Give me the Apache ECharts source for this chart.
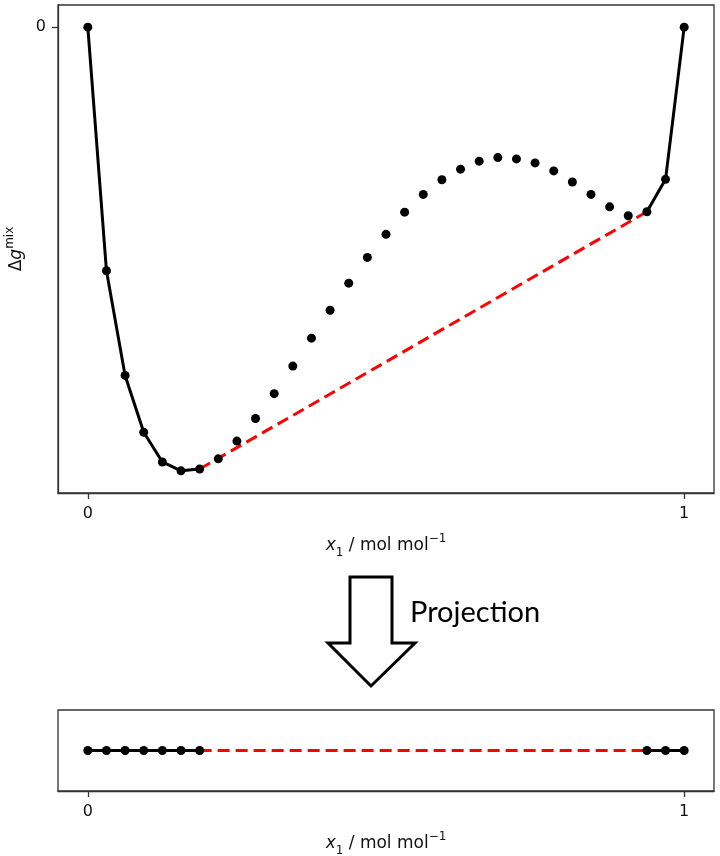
<!DOCTYPE html>
<html>
<head>
<meta charset="utf-8">
<script src="https://cdn.jsdelivr.net/npm/echarts@6/dist/echarts.min.js"></script>
<style>
html,body{margin:0;padding:0;background:#fff;}
#c{width:720px;height:856px;}
</style>
</head>
<body>
<div id="c"></div>
<script>
// Stable branch near x1 = 0 (solid)
const xLeft = [0, 0.03125, 0.0625, 0.09375, 0.125, 0.15625, 0.1875];
const gLeft = [0, -0.549, -0.785, -0.913, -0.98, -1.0, -0.996];
// Unstable / metastable points (dots only)
const xMid = [0.21875, 0.25, 0.28125, 0.3125, 0.34375, 0.375, 0.40625, 0.4375, 0.46875, 0.5,
              0.53125, 0.5625, 0.59375, 0.625, 0.65625, 0.6875, 0.71875, 0.75, 0.78125, 0.8125,
              0.84375, 0.875, 0.90625];
const gMid = [-0.973, -0.933, -0.882, -0.826, -0.764, -0.701, -0.638, -0.577, -0.519, -0.467,
              -0.417, -0.377, -0.344, -0.320, -0.302, -0.294, -0.297, -0.306, -0.324, -0.349,
              -0.377, -0.405, -0.425];
// Stable branch near x1 = 1 (solid)
const xRight = [0.9375, 0.96875, 1];
const gRight = [-0.416, -0.343, 0];
// Tick values
const xTicks = [0, 1];
const yTicks = [0];

const zip = (a, b) => a.map((v, i) => [v, b[i]]);
const tieLine = [[xLeft[xLeft.length - 1], gLeft[gLeft.length - 1]], [xRight[0], gRight[0]]];
const projLeft = xLeft.map(v => [v, 0]);
const projRight = xRight.map(v => [v, 0]);
const projTie = [[xLeft[xLeft.length - 1], 0], [xRight[0], 0]];

const FONT = 'DejaVu Sans';
const richStyles = {
  it: {fontFamily: FONT, fontSize: 17, fontStyle: 'italic', color: '#111', lineHeight: 26, verticalAlign: 'middle'},
  n: {fontFamily: FONT, fontSize: 17, color: '#111', lineHeight: 26, verticalAlign: 'middle'},
  sub: {fontFamily: FONT, fontSize: 12, color: '#111', lineHeight: 15, verticalAlign: 'bottom'},
  sup: {fontFamily: FONT, fontSize: 12, color: '#111', lineHeight: 14, verticalAlign: 'top'}
};
const nameStyle = {fontFamily: FONT, fontSize: 17, color: '#111', rich: richStyles};
const xName = '{it|x}{sub|1}{n| / mol mol}{sup|−1}';
const yName = '{n|Δ}{it|g}{sup|mix}';
const lineCol = {color: '#333', width: 1.3};

function xAxisFor(idx) {
  return {
    gridIndex: idx, type: 'value', min: -0.05, max: 1.05,
    axisLine: {show: true, onZero: false, lineStyle: lineCol}, splitLine: {show: false},
    axisTick: {show: true, customValues: xTicks, length: 6, lineStyle: lineCol},
    axisLabel: {show: true, customValues: xTicks, fontFamily: FONT, fontSize: 16, color: '#111', margin: 13,
                formatter: v => String(v)},
    name: xName, nameLocation: 'middle', nameGap: 40, nameTextStyle: nameStyle
  };
}

const chart = echarts.init(document.getElementById('c'), null, {renderer: 'canvas'});
chart.setOption({
  animation: false,
  backgroundColor: '#fff',
  grid: [
    {left: 58, right: 6, top: 5, height: 488, show: true, borderColor: '#333', borderWidth: 1.3,
     containLabel: false, outerBoundsMode: 'none'},
    {left: 58, right: 6, top: 710, height: 81, show: true, borderColor: '#333', borderWidth: 1.3,
     containLabel: false, outerBoundsMode: 'none'}
  ],
  xAxis: [xAxisFor(0), xAxisFor(1)],
  yAxis: [
    {
      gridIndex: 0, type: 'value', min: -1.05, max: 0.05,
      axisLine: {show: true, onZero: false, lineStyle: lineCol}, splitLine: {show: false},
      axisTick: {show: true, customValues: yTicks, length: 6, lineStyle: lineCol},
      axisLabel: {show: true, customValues: yTicks, fontFamily: FONT, fontSize: 16, color: '#111', margin: 12,
                  formatter: v => String(v)},
      name: yName, nameLocation: 'middle', nameGap: 27, nameRotate: 90,
      nameTextStyle: nameStyle
    },
    {gridIndex: 1, type: 'value', min: -1, max: 1, show: false}
  ],
  series: [
    {type: 'line', xAxisIndex: 0, yAxisIndex: 0, data: tieLine, symbol: 'none', z: 2,
     lineStyle: {color: '#ff0000', width: 3, type: [12, 6]}},
    {type: 'line', xAxisIndex: 0, yAxisIndex: 0, data: zip(xLeft, gLeft), symbol: 'circle', symbolSize: 9, z: 3,
     lineStyle: {color: '#000', width: 3}, itemStyle: {color: '#000'}},
    {type: 'scatter', xAxisIndex: 0, yAxisIndex: 0, data: zip(xMid, gMid), symbol: 'circle', symbolSize: 9, z: 3,
     itemStyle: {color: '#000', opacity: 1}},
    {type: 'line', xAxisIndex: 0, yAxisIndex: 0, data: zip(xRight, gRight), symbol: 'circle', symbolSize: 9, z: 3,
     lineStyle: {color: '#000', width: 3}, itemStyle: {color: '#000'}},

    {type: 'line', xAxisIndex: 1, yAxisIndex: 1, data: projTie, symbol: 'none', z: 2,
     lineStyle: {color: '#ff0000', width: 3, type: [12, 6]}},
    {type: 'line', xAxisIndex: 1, yAxisIndex: 1, data: projLeft, symbol: 'circle', symbolSize: 9, z: 3,
     lineStyle: {color: '#000', width: 3}, itemStyle: {color: '#000'}},
    {type: 'line', xAxisIndex: 1, yAxisIndex: 1, data: projRight, symbol: 'circle', symbolSize: 9, z: 3,
     lineStyle: {color: '#000', width: 3}, itemStyle: {color: '#000'}}
  ],
  graphic: [
    {
      type: 'polygon',
      shape: {points: [[350, 577], [392, 577], [392, 643], [415, 643], [371, 686], [328, 643], [350, 643]]},
      style: {fill: '#fff', stroke: '#000', lineWidth: 3, lineJoin: 'miter'}
    },
    {
      type: 'text', x: 410, y: 613,
      style: {
        text: '{p|Projec}{p|tion}', textAlign: 'left', textVerticalAlign: 'middle',
        rich: {p: {font: '29px Lato', fontFamily: 'Lato', fontSize: 29, fill: '#000', color: '#000'}}
      }
    }
  ]
});
</script>
</body>
</html>
